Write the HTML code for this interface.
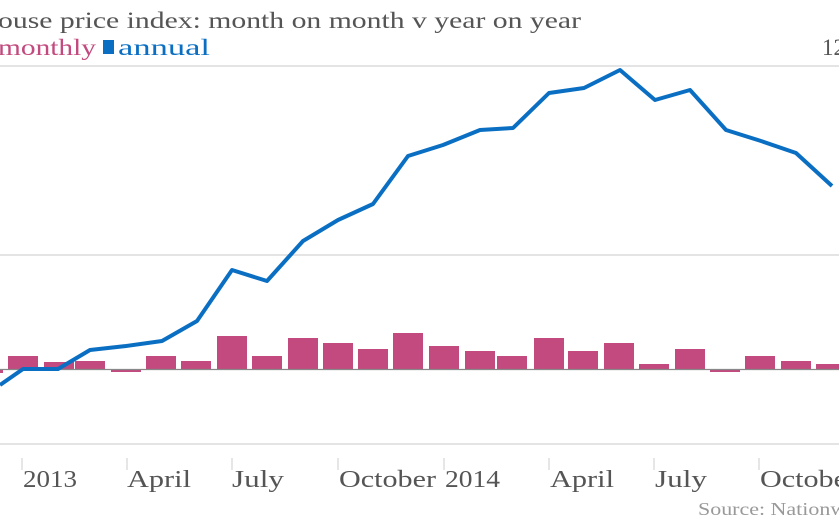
<!DOCTYPE html>
<html><head><style>
body{margin:0;width:839px;height:523px;overflow:hidden;background:#fff;font-family:"Liberation Serif",serif;}
</style></head><body>
<svg width="839" height="523" xmlns="http://www.w3.org/2000/svg" font-family="Liberation Serif, serif">
<text x="-2" y="28" font-size="23" fill="#555" textLength="583" lengthAdjust="spacingAndGlyphs">ouse price index: month on month v year on year</text>
<text x="-2" y="55" font-size="23" fill="#c24a7e" textLength="98" lengthAdjust="spacingAndGlyphs">monthly</text>
<rect x="103" y="40" width="11" height="14" fill="#0a6fc2"/>
<text x="118" y="55" font-size="23" fill="#0a6fc2" textLength="92" lengthAdjust="spacingAndGlyphs">annual</text>
<text x="822" y="55" font-size="23" fill="#555">12</text>
<line x1="0" y1="66" x2="839" y2="66" stroke="#e4e4e4" stroke-width="2"/>
<line x1="0" y1="255" x2="839" y2="255" stroke="#e4e4e4" stroke-width="2"/>
<line x1="0" y1="444" x2="839" y2="444" stroke="#e4e4e4" stroke-width="2"/>
<g fill="#c24a7e">
<rect x="-3" y="369" width="6" height="4"/>
<rect x="8" y="356" width="30" height="13"/>
<rect x="44" y="362" width="30" height="7"/>
<rect x="75" y="361" width="30" height="8"/>
<rect x="111" y="369" width="30" height="3"/>
<rect x="146" y="356" width="30" height="13"/>
<rect x="181" y="361" width="30" height="8"/>
<rect x="217" y="336" width="30" height="33"/>
<rect x="252" y="356" width="30" height="13"/>
<rect x="288" y="338" width="30" height="31"/>
<rect x="323" y="343" width="30" height="26"/>
<rect x="358" y="349" width="30" height="20"/>
<rect x="393" y="333" width="30" height="36"/>
<rect x="429" y="346" width="30" height="23"/>
<rect x="465" y="351" width="30" height="18"/>
<rect x="497" y="356" width="30" height="13"/>
<rect x="534" y="338" width="30" height="31"/>
<rect x="568" y="351" width="30" height="18"/>
<rect x="604" y="343" width="30" height="26"/>
<rect x="639" y="364" width="30" height="5"/>
<rect x="675" y="349" width="30" height="20"/>
<rect x="710" y="369" width="30" height="3"/>
<rect x="745" y="356" width="30" height="13"/>
<rect x="781" y="361" width="30" height="8"/>
<rect x="816" y="364" width="30" height="5"/>
</g>
<line x1="0" y1="369.5" x2="839" y2="369.5" stroke="#888" stroke-width="1.2"/>
<polyline fill="none" stroke="#0a6fc2" stroke-width="4" stroke-linejoin="round" points="0,385 23,369 58,369 90,350 126,346 162,341 197,321 232,270 267,281 303,241 338,220 373,204 408,156 443,145 480,130 513,128 549,93 584,88 620,70 655,100 690,90 726,130 761,141 796,153 832,186"/>
<g stroke="#ddd" stroke-width="1.5">
<line x1="22" y1="458" x2="22" y2="470"/><line x1="127" y1="458" x2="127" y2="470"/>
<line x1="232" y1="458" x2="232" y2="470"/><line x1="338" y1="458" x2="338" y2="470"/>
<line x1="444" y1="458" x2="444" y2="470"/><line x1="549" y1="458" x2="549" y2="470"/>
<line x1="654" y1="458" x2="654" y2="470"/><line x1="759" y1="458" x2="759" y2="470"/>
</g>
<g font-size="24" fill="#555">
<text x="23" y="487" textLength="54" lengthAdjust="spacingAndGlyphs">2013</text>
<text x="127" y="487" textLength="64" lengthAdjust="spacingAndGlyphs">April</text>
<text x="232" y="487" textLength="52" lengthAdjust="spacingAndGlyphs">July</text>
<text x="339" y="487" textLength="97" lengthAdjust="spacingAndGlyphs">October</text>
<text x="445" y="487" textLength="55" lengthAdjust="spacingAndGlyphs">2014</text>
<text x="550" y="487" textLength="64" lengthAdjust="spacingAndGlyphs">April</text>
<text x="655" y="487" textLength="52" lengthAdjust="spacingAndGlyphs">July</text>
<text x="760" y="487" textLength="97" lengthAdjust="spacingAndGlyphs">October</text>
</g>
<text x="698" y="515" font-size="18" fill="#999" textLength="175" lengthAdjust="spacingAndGlyphs">Source: Nationwide</text>
</svg>
</body></html>
